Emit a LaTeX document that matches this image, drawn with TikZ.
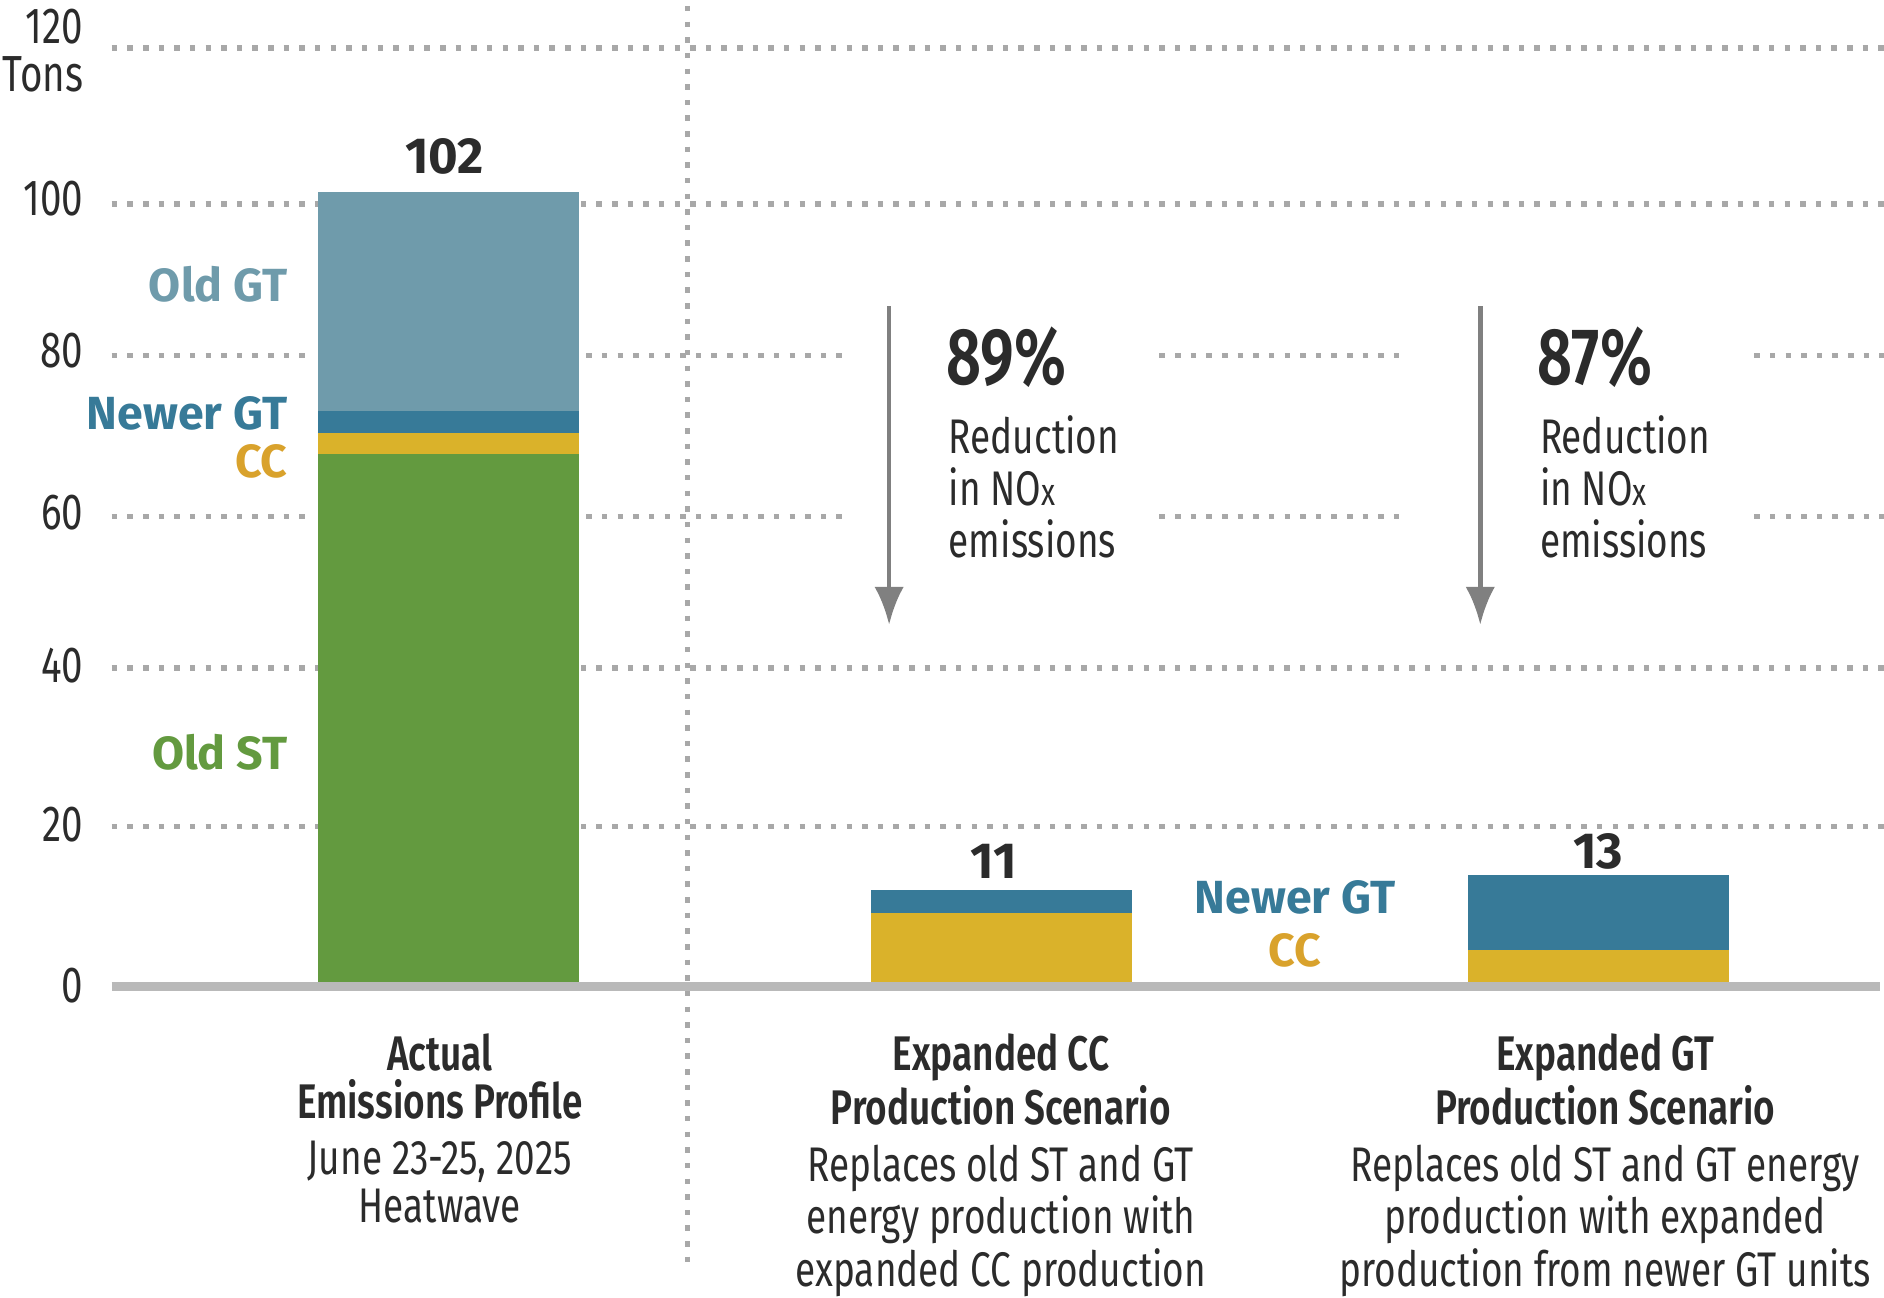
\documentclass[tikz,border=0pt]{standalone}
\usepackage{fontspec}
\usetikzlibrary{arrows.meta}
\setmainfont{Fira Sans}
\newfontfamily\cond[FakeStretch=0.76]{Fira Sans}
\newfontfamily\condb[FakeStretch=0.76]{Fira Sans SemiBold}
\definecolor{cgreen}{HTML}{639A3F}
\definecolor{cyellow}{HTML}{DAB22A}
\definecolor{corange}{HTML}{D9A22C}
\definecolor{cblue}{HTML}{377A98}
\definecolor{cold}{HTML}{6F9BAB}
\definecolor{cgrid}{HTML}{A8A8A8}
\definecolor{ctext}{HTML}{2B2B2B}
\begin{document}
\begin{tikzpicture}[x=0.01cm,y=-0.01cm,
  grid/.style={cgrid,line width=1.3pt,dash pattern=on 1.3pt off 2.4pt},
  axl/.style={anchor=east,font=\cond\fontsize{12}{12}\selectfont,text=ctext,inner sep=0},
  lab/.style={font=\bfseries\fontsize{11}{11}\selectfont,inner sep=0},
  val/.style={font=\bfseries\fontsize{12}{12}\selectfont,text=ctext,inner sep=0},
  cat/.style={align=center,text=ctext,font=\cond\fontsize{11.5}{11.3}\selectfont,inner sep=0,anchor=north},
  pct/.style={font=\condb\fontsize{19}{19}\selectfont,text=ctext,anchor=west,inner sep=0},
  red/.style={font=\cond\fontsize{11.5}{12.3}\selectfont,text=ctext,anchor=north west,align=left,inner sep=0},
  arr/.style={gray,line width=1.1pt,-{Latex[length=9pt,width=7pt]}}]
\useasboundingbox (0,0) rectangle (1568,1080);
% gridlines
\foreach \yy in {40,170,556,688}{
  \draw[grid] (93,\yy) -- (1568,\yy);}
\foreach \yy in {296,430}{
  \draw[grid] (93,\yy) -- (262,\yy);
  \draw[grid] (488,\yy) -- (706,\yy);
  \draw[grid] (965,\yy) -- (1172,\yy);
  \draw[grid] (1460,\yy) -- (1568,\yy);}
\draw[grid] (572,5) -- (572,1058);
% axis labels
\node[axl] (t120) at (70,22) {120};
\node[axl] (tons) at (70,62) {Tons};
\node[axl] (t100) at (70,165) {100};
\node[axl] (t80) at (70,292) {80};
\node[axl] (t60) at (70,427) {60};
\node[axl] (t40) at (70,554) {40};
\node[axl] (t20) at (70,686) {20};
\node[axl] (t0) at (70,820) {0};
% bar 1
\fill[cgreen] (265,820) rectangle (482,378);
\fill[cyellow] (265,378) rectangle (482,360);
\fill[cblue] (265,360) rectangle (482,342);
\fill[cold] (265,342) rectangle (482,160);
% bar 2
\fill[cyellow] (725,820) rectangle (942,760);
\fill[cblue] (725,760) rectangle (942,741);
% bar 3
\fill[cyellow] (1222,820) rectangle (1439,791);
\fill[cblue] (1222,791) rectangle (1439,728);
% baseline
\draw[cgrid!80,line width=2.3pt] (93,821) -- (1565,821);
% values
\node[val] (v1) at (370,130) {102};
\node[val] (v2) at (827,717) {11};
\node[val] (v3) at (1330,709) {13};
% segment labels
\node[lab,text=cold,anchor=east] (loldgt) at (240,237) {Old GT};
\node[lab,text=cblue,anchor=east] (lnewgt) at (240,344) {Newer GT};
\node[lab,text=corange,anchor=east] (lcc) at (240,384) {CC};
\node[lab,text=cgreen,anchor=east] (loldst) at (240,626) {Old ST};
\node[lab,text=cblue] (lnewgt2) at (1078,747) {Newer GT};
\node[lab,text=corange] (lcc2) at (1078,791) {CC};
% arrows and reductions
\coordinate (a1s) at (740,255); \coordinate (a1e) at (740,520);
\coordinate (a2s) at (1232,255); \coordinate (a2e) at (1232,520);
\draw[arr] (a1s) -- (a1e);
\draw[arr] (a2s) -- (a2e);
\node[pct] (p1) at (787,297) {89\%};
\node[pct] (p2) at (1279,297) {87\%};
\node[red] (r1) at (789,345) {Reduction\\in NO{\fontsize{9}{9}\selectfont x}\\emissions};
\node[red] (r2) at (1281,345) {Reduction\\in NO{\fontsize{9}{9}\selectfont x}\\emissions};
% categories
\node[cat] (c1) at (366,860) {{\condb Actual}\\{\condb Emissions Profile}\\[2pt]June 23-25, 2025\\Heatwave};
\node[cat] (c2) at (833,860) {{\condb Expanded CC}\\{\condb Production Scenario}\\[2pt]Replaces old ST and GT\\energy production with\\expanded CC production};
\node[cat] (c3) at (1336,860) {{\condb Expanded GT}\\{\condb Production Scenario}\\[2pt]Replaces old ST and GT energy\\production with expanded\\production from newer GT units};
\end{tikzpicture}
\end{document}
